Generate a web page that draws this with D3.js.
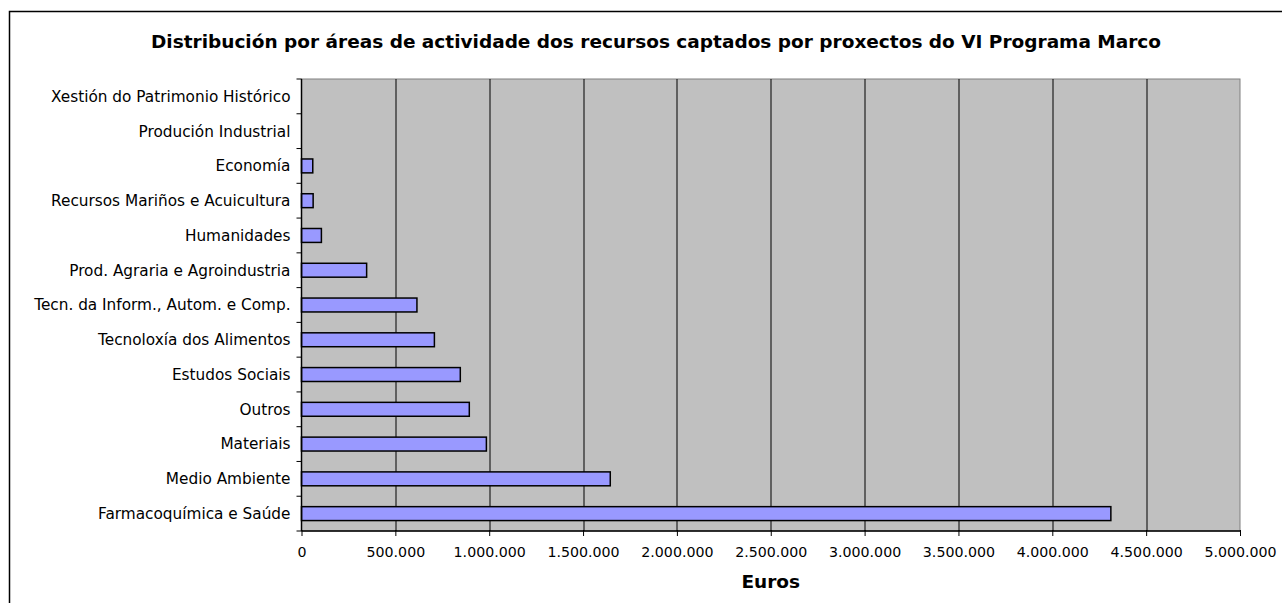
<!DOCTYPE html>
<html>
<head>
<meta charset="utf-8">
<script src="https://cdn.jsdelivr.net/npm/d3@7"></script>
<style>
  body { margin: 0; background: #fff; }
  svg text { font-family: "DejaVu Sans", Verdana, sans-serif; fill: #000; }
</style>
</head>
<body>
<div id="chart"></div>
<script>
// categories, top to bottom as drawn
const categories = [
  "Xestión do Patrimonio Histórico",
  "Produción Industrial",
  "Economía",
  "Recursos Mariños e Acuicultura",
  "Humanidades",
  "Prod. Agraria e Agroindustria",
  "Tecn. da Inform., Autom. e Comp.",
  "Tecnoloxía dos Alimentos",
  "Estudos Sociais",
  "Outros",
  "Materiais",
  "Medio Ambiente",
  "Farmacoquímica e Saúde"
];
const euros = [0, 0, 60000, 62000, 106000, 347000, 615000, 708000, 846000, 894000, 985000, 1645000, 4312000];
const xTicks = [0, 500000, 1000000, 1500000, 2000000, 2500000, 3000000, 3500000, 4000000, 4500000, 5000000];

const W = 1282, H = 603;
let margin = { top: 79, left: 301.5, right: 42, bottom: 72 };
let width = W - margin.left - margin.right,
    height = H - margin.top - margin.bottom;

let svg = d3.select("#chart").append("svg")
    .attr("width", W)
    .attr("height", H);

// outer chart frame (runs off the right and bottom edges)
svg.append("path")
    .attr("d", `M9.5,${H + 5} L9.5,11.5 L${W + 5},11.5`)
    .attr("fill", "none")
    .attr("stroke", "#000")
    .attr("stroke-width", 1.5);

svg.append("text")
    .attr("x", 656)
    .attr("y", 48)
    .attr("text-anchor", "middle")
    .attr("font-size", "18.5px")
    .attr("font-weight", "bold")
    .text("Distribución por áreas de actividade dos recursos captados por proxectos do VI Programa Marco");

const g = svg.append("g")
    .attr("transform", `translate(${margin.left},${margin.top})`);

const x = d3.scaleLinear().domain([0, 5000000]).range([0, width]);
const y = d3.scaleBand().domain(categories).range([0, height]).paddingInner(0.6).paddingOuter(0.3);
const band = height / categories.length;

// plot background
g.append("rect")
    .attr("width", width)
    .attr("height", height)
    .attr("fill", "#c0c0c0")
    .attr("stroke", "#808080")
    .attr("stroke-width", 1);

// gridlines
g.selectAll(".grid")
    .data(xTicks.slice(1, -1))
    .enter().append("line")
    .attr("class", "grid")
    .attr("x1", d => Math.round(x(d)) + 0.5)
    .attr("x2", d => Math.round(x(d)) + 0.5)
    .attr("y1", 0)
    .attr("y2", height)
    .attr("stroke", "#000")
    .attr("stroke-width", 1);

// bars
g.selectAll(".bar")
    .data(euros)
    .enter().append("rect")
    .attr("class", "bar")
    .attr("x", 0)
    .attr("y", (d, i) => y(categories[i]))
    .attr("width", d => x(d))
    .attr("height", y.bandwidth())
    .attr("fill", "#9999ff")
    .attr("stroke", d => d > 0 ? "#000" : "none")
    .attr("stroke-width", 1.5);

// x axis
const xAxis = d3.axisBottom(x)
    .tickValues(xTicks)
    .tickSize(5)
    .tickFormat(d => d3.format(",")(d).replace(/,/g, "."));

const gx = g.append("g")
    .attr("transform", `translate(0,${height})`)
    .call(xAxis);
gx.select(".domain").attr("stroke", "#000").attr("stroke-width", 1.5).attr("d", `M0,0H${width}`);
gx.selectAll(".tick line").attr("stroke", "#000").attr("y1", -1);
gx.selectAll(".tick text")
    .attr("y", 16)
    .attr("font-size", "14.2px")
    .attr("font-family", "DejaVu Sans, Verdana, sans-serif");

// y axis line + ticks at category boundaries
g.append("line")
    .attr("x1", 0).attr("x2", 0)
    .attr("y1", 0).attr("y2", height)
    .attr("stroke", "#000")
    .attr("stroke-width", 1.5);

g.selectAll(".ytick")
    .data(d3.range(categories.length + 1))
    .enter().append("line")
    .attr("class", "ytick")
    .attr("x1", -5).attr("x2", 0)
    .attr("y1", i => i * band)
    .attr("y2", i => i * band)
    .attr("stroke", "#000");

g.selectAll(".ylabel")
    .data(categories)
    .enter().append("text")
    .attr("class", "ylabel")
    .attr("x", -11)
    .attr("y", d => y(d) + y.bandwidth() / 2)
    .attr("dy", "0.35em")
    .attr("text-anchor", "end")
    .attr("font-size", "15.3px")
    .text(d => d);

svg.append("text")
    .attr("x", margin.left + width / 2)
    .attr("y", 588)
    .attr("text-anchor", "middle")
    .attr("font-size", "18.5px")
    .attr("font-weight", "bold")
    .text("Euros");
</script>
</body>
</html>
